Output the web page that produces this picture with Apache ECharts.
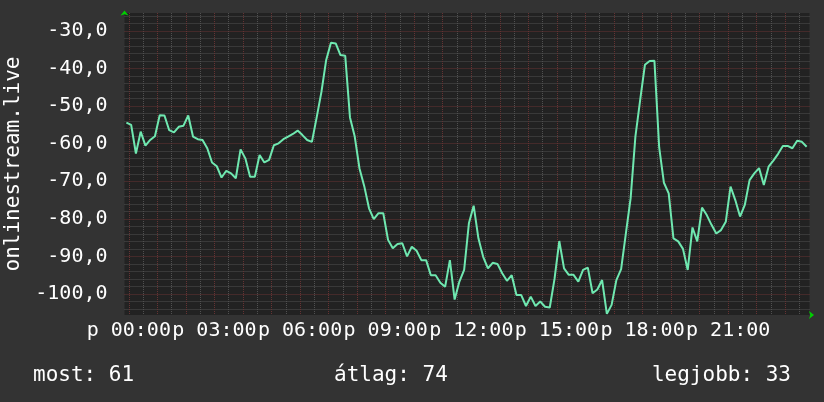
<!DOCTYPE html>
<html>
<head>
<meta charset="utf-8">
<script src="https://cdn.jsdelivr.net/npm/echarts@6/dist/echarts.min.js"></script>
<style>
  html, body { margin: 0; padding: 0; background: #333333; }
  #chart { width: 824px; height: 402px; }
</style>
</head>
<body>
<div id="chart"></div>
<script>
// time in minutes from midnight; first sample at 23:55 the day before, one every 10 min
const startMinute = -5
const stepMinutes = 10

const values = [
  -54.4, -55.0, -62.6, -56.8, -60.5, -59.0, -58.0, -52.4, -52.5, -56.4,
  -57.0, -55.5, -55.2, -52.5, -58.1, -58.8, -59.0, -61.2, -65.0, -66.0,
  -69.0, -67.2, -67.9, -69.2, -61.5, -63.9, -68.8, -68.8, -63.0, -65.0,
  -64.3, -60.4, -59.9, -58.8, -58.1, -57.4, -56.5, -57.7, -59.0, -59.5,
  -53.0, -46.2, -37.7, -33.1, -33.3, -36.4, -36.6, -53.0, -58.1, -66.6,
  -71.3, -77.2, -80.1, -78.5, -78.5, -85.6, -87.8, -86.7, -86.5, -90.0,
  -87.4, -88.5, -91.0, -91.0, -95.0, -95.0, -97.0, -98.1, -91.0, -101.5,
  -96.7, -93.6, -81.2, -76.5, -85.2, -90.1, -93.2, -91.7, -92.0, -94.5,
  -96.5, -95.0, -100.3, -100.3, -103.2, -100.7, -103.2, -102.0, -103.4, -103.6,
  -96.0, -85.9, -93.2, -94.9, -94.9, -96.7, -93.6, -93.0, -99.8, -98.8,
  -96.3, -105.3, -102.9, -96.3, -93.4, -83.9, -74.5, -58.1, -48.4, -39.0,
  -38.0, -37.9, -61.0, -70.4, -73.2, -85.2, -86.0, -88.0, -93.6, -82.3,
  -86.0, -77.0, -79.0, -81.6, -83.9, -83.0, -80.8, -71.4, -75.0, -79.4,
  -76.3, -69.7, -67.9, -66.5, -71.0, -66.1, -64.5, -62.7, -60.6, -60.6,
  -61.2, -59.2, -59.5, -60.8
]

// grid / tick positions (minutes and values)
const hourTicks = [0, 60, 120, 180, 240, 300, 360, 420, 480, 540, 600, 660, 720, 780, 840, 900, 960, 1020, 1080, 1140, 1200, 1260, 1320, 1380]
const halfHourTicks = [30, 90, 150, 210, 270, 330, 390, 450, 510, 570, 630, 690, 750, 810, 870, 930, 990, 1050, 1110, 1170, 1230, 1290, 1350, 1410]
const labelMinutes = [0, 180, 360, 540, 720, 900, 1080, 1260]
const yMajorTicks = [-100, -90, -80, -70, -60, -50, -40, -30]
const yMinorTicks = [-104, -102, -98, -96, -94, -92, -88, -86, -84, -82, -78, -76, -74, -72, -68, -66, -64, -62, -58, -56, -54, -52, -48, -46, -44, -42, -38, -36, -34, -32, -28, -26]

const xMin = -9
const xMax = 1431
const yMin = -105.6
const yMax = -25.2

const font = 'DejaVu Sans Mono'
const gridGrey = '#505050'
const gridRed = '#663333'
const arrowGreen = '#00d000'

const seriesData = values.map((v, i) => [startMinute + i * stepMinutes, v])

const now = Math.round(-values[values.length - 1])
const avg = Math.round(-values.reduce((a, b) => a + b, 0) / values.length)
const best = Math.round(-Math.max(...values))

const pad = (n) => (n < 10 ? '0' + n : '' + n)

const myChart = echarts.init(document.getElementById('chart'))
const option = {
  backgroundColor: '#333333',
  animation: false,
  grid: {
    left: 124.5,
    right: 14.5,
    top: 13,
    bottom: 87,
    outerBoundsMode: 'none',
    show: true,
    backgroundColor: '#222222',
    borderWidth: 0
  },
  xAxis: [
    {
      type: 'value',
      min: xMin,
      max: xMax,
      z: 2,
      axisLine: {
        show: true,
        onZero: false,
        symbol: ['none', 'arrow'],
        symbolSize: [6, 5],
        symbolOffset: [0, 4.5],
        lineStyle: { color: arrowGreen, width: 0 }
      },
      axisTick: { show: false, customValues: hourTicks },
      axisLabel: {
        color: '#ffffff',
        fontFamily: font,
        fontSize: 20,
        margin: 6,
        hideOverlap: false,
        showMinLabel: true,
        showMaxLabel: true,
        customValues: labelMinutes,
        formatter: (v) => 'p ' + pad(Math.round(v / 60)) + ':00'
      },
      splitLine: {
        show: true,
        lineStyle: { color: gridRed, width: 1, type: [1, 1] }
      }
    },
    {
      type: 'value',
      min: xMin,
      max: xMax,
      z: 1,
      axisLine: { show: false },
      axisTick: { show: false, customValues: halfHourTicks },
      axisLabel: { show: false },
      splitLine: {
        show: true,
        lineStyle: { color: gridGrey, width: 1, type: [1, 1] }
      }
    }
  ],
  yAxis: [
    {
      type: 'value',
      min: yMin,
      max: yMax,
      z: 2,
      name: 'onlinestream.live',
      nameLocation: 'middle',
      nameRotate: 90,
      nameGap: 99,
      nameTextStyle: { color: '#ffffff', fontFamily: font, fontSize: 21 },
      axisLine: {
        show: true,
        onZero: false,
        symbol: ['none', 'arrow'],
        symbolSize: [6, 5],
        symbolOffset: [0, 2.5],
        lineStyle: { color: arrowGreen, width: 0 }
      },
      axisTick: { show: false, customValues: yMajorTicks },
      axisLabel: {
        color: '#ffffff',
        fontFamily: font,
        fontSize: 20,
        margin: 17,
        padding: [3, 0, 0, 0],
        customValues: yMajorTicks,
        formatter: (v) => v.toFixed(1).replace('.', ',')
      },
      splitLine: {
        show: true,
        lineStyle: { color: gridRed, width: 1, type: [1, 1] }
      }
    },
    {
      type: 'value',
      min: yMin,
      max: yMax,
      z: 1,
      axisLine: { show: false },
      axisTick: { show: false, customValues: yMinorTicks },
      axisLabel: { show: false },
      splitLine: {
        show: true,
        lineStyle: { color: gridGrey, width: 1, type: [1, 1] }
      }
    }
  ],
  series: [
    {
      type: 'line',
      xAxisIndex: 0,
      yAxisIndex: 0,
      z: 5,
      data: seriesData,
      showSymbol: false,
      lineStyle: { color: '#6fe8b0', width: 2 },
      clip: true
    }
  ],
  graphic: [
    {
      type: 'text',
      left: 33,
      top: 365,
      style: { text: 'most: ' + now, fill: '#ffffff', font: '21px "DejaVu Sans Mono"' }
    },
    {
      type: 'text',
      left: 334,
      top: 365,
      style: { text: 'átlag: ' + avg, fill: '#ffffff', font: '21px "DejaVu Sans Mono"' }
    },
    {
      type: 'text',
      right: 33,
      top: 365,
      style: { text: 'legjobb: ' + best, fill: '#ffffff', font: '21px "DejaVu Sans Mono"' }
    }
  ]
}
myChart.setOption(option)
</script>
</body>
</html>
